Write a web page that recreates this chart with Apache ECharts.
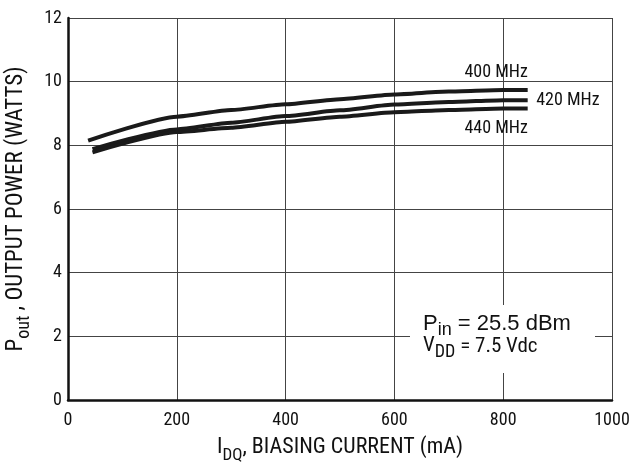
<!DOCTYPE html>
<html>
<head>
<meta charset="utf-8">
<script src="https://cdn.jsdelivr.net/npm/echarts@6/dist/echarts.min.js"></script>
<style>
html,body{margin:0;padding:0;background:#fff;}
#c{width:637px;height:466px;}
</style>
</head>
<body>
<div id="c"></div>
<script>
// Data
var current400 = [37, 200, 300, 400, 500, 600, 700, 800, 845];
var power400   = [8.15, 8.90, 9.11, 9.29, 9.45, 9.60, 9.69, 9.74, 9.74];
var current420 = [45, 200, 300, 400, 500, 600, 700, 800, 845];
var power420   = [7.88, 8.50, 8.71, 8.92, 9.10, 9.28, 9.36, 9.42, 9.42];
var current440 = [45, 200, 300, 400, 500, 600, 700, 800, 845];
var power440   = [7.78, 8.42, 8.55, 8.74, 8.90, 9.04, 9.11, 9.16, 9.16];
var seriesNames = ['400 MHz', '420 MHz', '440 MHz'];
var xTicks = [0, 200, 400, 600, 800, 1000];
var yTicks = [0, 2, 4, 6, 8, 10, 12];

var FONT = '"Liberation Sans Narrow", "Roboto Condensed", "Noto Sans Condensed", "DejaVu Sans Condensed", "Arial Narrow", sans-serif';
var FONT2 = '"Liberation Sans", Arial, sans-serif';

function pairs(xs, ys) { return xs.map(function (x, i) { return [x, ys[i]]; }); }

var chart = echarts.init(document.getElementById('c'), null, {renderer: 'canvas'});

function makeSeries(name, xs, ys, lbl) {
  return {
    name: name, type: 'line', data: pairs(xs, ys), showSymbol: false, symbol: 'none',
    smooth: 0.2, smoothMonotone: 'x',
    lineStyle: {color: '#1a1a1a', width: 4}, z: 5,
    emphasis: {disabled: true}, silent: true,
    markPoint: {
      symbol: 'circle', symbolSize: 1, silent: true, animation: false,
      itemStyle: {color: 'rgba(0,0,0,0)'},
      data: [{coord: [xs[lbl.index], ys[lbl.index]],
        label: Object.assign({show: true, formatter: name, color: '#111',
          fontFamily: FONT, fontSize: 18}, lbl.label)}]
    }
  };
}

var option = {
  animation: false,
  backgroundColor: '#fff',
  grid: {left: 68, right: 25, top: 18, bottom: 66, show: false, containLabel: false, outerBoundsMode: 'none'},
  xAxis: {
    type: 'value', min: xTicks[0], max: xTicks[xTicks.length - 1], interval: xTicks[1] - xTicks[0],
    name: '{m|I}{s|DQ}{m|, BIASING CURRENT (mA)}',
    nameLocation: 'middle', nameGap: 36,
    nameTextStyle: {rich: {
      m: {fontFamily: FONT, fontSize: 22, color: '#111', lineHeight: 24, verticalAlign: 'top'},
      s: {fontFamily: FONT, fontSize: 17, color: '#111', lineHeight: 17, padding: [11, 0, 0, 0], verticalAlign: 'top'}
    }},
    axisLine: {show: true, onZero: false, lineStyle: {color: '#111', width: 2.5}},
    axisTick: {show: false},
    axisLabel: {fontFamily: FONT, fontSize: 18, color: '#111', margin: 11,
      formatter: function (v) { return String(v); }},
    splitLine: {show: true, lineStyle: {color: '#444', width: 1}}
  },
  yAxis: {
    type: 'value', min: yTicks[0], max: yTicks[yTicks.length - 1], interval: yTicks[1] - yTicks[0],
    name: '{m|P}{s|out}{m| , OUTPUT POWER (WATTS)}',
    nameLocation: 'middle', nameGap: 36, nameRotate: 90,
    nameTextStyle: {rich: {
      m: {fontFamily: FONT, fontSize: 23, color: '#111', lineHeight: 24, verticalAlign: 'top'},
      s: {fontFamily: FONT, fontSize: 18, color: '#111', lineHeight: 18, padding: [11, 0, 0, 0], verticalAlign: 'top'}
    }},
    axisLine: {show: true, onZero: false, lineStyle: {color: '#111', width: 2.5}},
    axisTick: {show: false},
    axisLabel: {fontFamily: FONT, fontSize: 18, color: '#111', margin: 6},
    splitLine: {show: true, lineStyle: {color: '#444', width: 1}}
  },
  series: [
    makeSeries(seriesNames[0], current400, power400, {index: 7, label: {position: 'top', distance: 8, offset: [-7, 0]}}),
    makeSeries(seriesNames[1], current420, power420, {index: 8, label: {position: 'right', distance: 8}}),
    makeSeries(seriesNames[2], current440, power440, {index: 7, label: {position: 'bottom', distance: 11, offset: [-7, 0]}})
  ],
  graphic: [
    {type: 'rect', shape: {x: 410, y: 305, width: 185, height: 68}, style: {fill: '#fff'}, z: 10, silent: true},
    {type: 'text', x: 423, y: 313, z: 11, silent: true,
      style: {text: '{m|P}{s|in}{m| = 25.5 dBm}', rich: {
        m: {fontFamily: FONT2, fontSize: 22, fill: '#111', lineHeight: 22, verticalAlign: 'top'},
        s: {fontFamily: FONT2, fontSize: 18, fill: '#111', lineHeight: 18, padding: [8, 0, 0, 0], verticalAlign: 'top'}
      }}},
    {type: 'text', x: 423, y: 335, z: 11, silent: true,
      style: {text: '{m|V}{s|DD}{t| = 7.5 Vdc}', rich: {
        m: {fontFamily: FONT, fontSize: 21, fill: '#111', lineHeight: 22, verticalAlign: 'top'},
        s: {fontFamily: FONT, fontSize: 18, fill: '#111', lineHeight: 18, padding: [8, 0, 0, 0], verticalAlign: 'top'},
        t: {fontFamily: FONT, fontSize: 21, fill: '#111', lineHeight: 21, padding: [1, 0, 0, 0], verticalAlign: 'top'}
      }}}
  ]
};
chart.setOption(option);
</script>
</body>
</html>
